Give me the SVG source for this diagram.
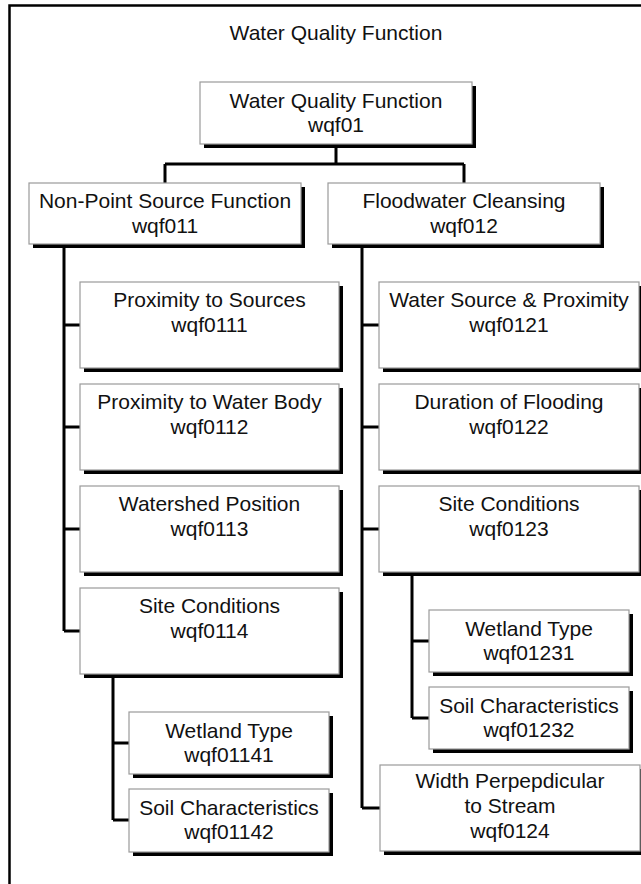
<svg xmlns="http://www.w3.org/2000/svg" width="641" height="884" viewBox="0 0 641 884">
  <style>
    .frame { fill: none; stroke: #000; stroke-width: 2.5; }
    .box { fill: #fff; stroke: #9a9a9a; stroke-width: 1.2; }
    .shadow { fill: #000; }
    .wire { fill: none; stroke: #000; stroke-width: 3; }
    text { font-family: "Liberation Sans", Arial, sans-serif; font-size: 21px; fill: #111; text-anchor: middle; }
  </style>

  <rect width="641" height="884" fill="#fff"/>

  <!-- page frame -->
  <path class="frame" d="M9.5,884 V5.5 H641"/>
  <text x="336" y="40">Water Quality Function</text>

  <!-- connectors -->
  <g id="connectors">
    <path class="wire" d="M336,146 V164 M165,164 H464 M165,164 V183 M464,164 V183"/>
    <path class="wire" d="M64,246 V631 M64,325 H80 M64,427 H80 M64,529 H80 M64,631 H80"/>
    <path class="wire" d="M113,676 V820 M113,743 H129 M113,820 H129"/>
    <path class="wire" d="M362,246 V808 M362,325 H379 M362,427 H379 M362,529 H379 M362,808 H380"/>
    <path class="wire" d="M412,574 V718 M412,641 H429 M412,718 H429"/>
  </g>

  <g id="wqf01">
    <rect class="shadow" x="204" y="86" width="272" height="62"/>
    <rect class="box" x="200" y="82" width="272" height="62"/>
    <text x="336" y="108">Water Quality Function</text>
    <text x="336" y="132">wqf01</text>
  </g>

  <g id="wqf011">
    <rect class="shadow" x="33" y="187" width="272" height="61"/>
    <rect class="box" x="29" y="183" width="272" height="61"/>
    <text x="165" y="208">Non-Point Source Function</text>
    <text x="165" y="233">wqf011</text>
  </g>

  <g id="wqf012">
    <rect class="shadow" x="332" y="187" width="272" height="61"/>
    <rect class="box" x="328" y="183" width="272" height="61"/>
    <text x="464" y="208">Floodwater Cleansing</text>
    <text x="464" y="233">wqf012</text>
  </g>

  <g id="wqf0111">
    <rect class="shadow" x="84" y="286" width="259" height="86"/>
    <rect class="box" x="80" y="282" width="259" height="86"/>
    <text x="209.5" y="307">Proximity to Sources</text>
    <text x="209.5" y="332">wqf0111</text>
  </g>

  <g id="wqf0112">
    <rect class="shadow" x="84" y="388" width="259" height="86"/>
    <rect class="box" x="80" y="384" width="259" height="86"/>
    <text x="209.5" y="409">Proximity to Water Body</text>
    <text x="209.5" y="434">wqf0112</text>
  </g>

  <g id="wqf0113">
    <rect class="shadow" x="84" y="490" width="259" height="86"/>
    <rect class="box" x="80" y="486" width="259" height="86"/>
    <text x="209.5" y="511">Watershed Position</text>
    <text x="209.5" y="536">wqf0113</text>
  </g>

  <g id="wqf0114">
    <rect class="shadow" x="84" y="592" width="259" height="86"/>
    <rect class="box" x="80" y="588" width="259" height="86"/>
    <text x="209.5" y="613">Site Conditions</text>
    <text x="209.5" y="638">wqf0114</text>
  </g>

  <g id="wqf01141">
    <rect class="shadow" x="133" y="716" width="200" height="62"/>
    <rect class="box" x="129" y="712" width="200" height="62"/>
    <text x="229" y="738">Wetland Type</text>
    <text x="229" y="762">wqf01141</text>
  </g>

  <g id="wqf01142">
    <rect class="shadow" x="133" y="793" width="200" height="63"/>
    <rect class="box" x="129" y="789" width="200" height="63"/>
    <text x="229" y="815">Soil Characteristics</text>
    <text x="229" y="839">wqf01142</text>
  </g>

  <g id="wqf0121">
    <rect class="shadow" x="383" y="286" width="260" height="86"/>
    <rect class="box" x="379" y="282" width="260" height="86"/>
    <text x="509" y="307">Water Source &amp; Proximity</text>
    <text x="509" y="332">wqf0121</text>
  </g>

  <g id="wqf0122">
    <rect class="shadow" x="383" y="388" width="260" height="86"/>
    <rect class="box" x="379" y="384" width="260" height="86"/>
    <text x="509" y="409">Duration of Flooding</text>
    <text x="509" y="434">wqf0122</text>
  </g>

  <g id="wqf0123">
    <rect class="shadow" x="383" y="490" width="260" height="86"/>
    <rect class="box" x="379" y="486" width="260" height="86"/>
    <text x="509" y="511">Site Conditions</text>
    <text x="509" y="536">wqf0123</text>
  </g>

  <g id="wqf01231">
    <rect class="shadow" x="433" y="614" width="200" height="62"/>
    <rect class="box" x="429" y="610" width="200" height="62"/>
    <text x="529" y="636">Wetland Type</text>
    <text x="529" y="660">wqf01231</text>
  </g>

  <g id="wqf01232">
    <rect class="shadow" x="433" y="691" width="200" height="62"/>
    <rect class="box" x="429" y="687" width="200" height="62"/>
    <text x="529" y="713">Soil Characteristics</text>
    <text x="529" y="737">wqf01232</text>
  </g>

  <g id="wqf0124">
    <rect class="shadow" x="384" y="769" width="260" height="86"/>
    <rect class="box" x="380" y="765" width="260" height="86"/>
    <text x="510" y="788">Width Perpepdicular</text>
    <text x="510" y="813">to Stream</text>
    <text x="510" y="838">wqf0124</text>
  </g>
</svg>
